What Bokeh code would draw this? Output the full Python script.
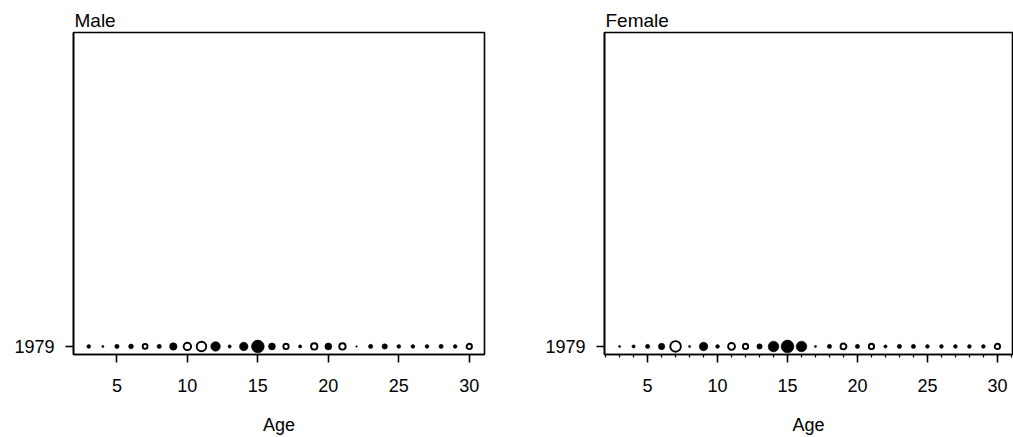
from bokeh.plotting import figure
from bokeh.layouts import row
from bokeh.models import ColumnDataSource, FixedTicker, Range1d
from bokeh.embed import file_html
from bokeh.resources import INLINE

# Residuals by age for the 1979 survey year (positive = filled, negative = open)
ages = list(range(3, 31))
year = 1979
male_resid = [0.7, 0.4, 0.8, 0.9, -0.9, 0.8, 1.4, -1.4, -1.8, 1.8, 0.6, 1.6, 2.4, 1.3,
              -1.0, 0.6, -1.2, 1.3, -1.2, 0.3, 0.8, 1.0, 0.7, 0.7, 0.7, 0.8, 0.7, -1.0]
female_resid = [0.4, 0.6, 0.8, 1.2, -2.0, 0.4, 1.6, 0.7, -1.3, -1.0, 1.0, 2.0, 2.4, 2.0,
                0.4, 0.8, -1.1, 0.8, -1.0, 0.6, 0.8, 0.8, 0.7, 0.7, 0.7, 0.7, 0.7, -1.0]
x_ticks = [5, 10, 15, 20, 25, 30]
y_ticks = [1979]
x_label = "Age"

FONT = "Liberation Sans"
FS = "18px"
PX_PER_UNIT = 5.3  # symbol diameter per unit residual
X_LO, X_HI = 1.92, 31.08


def panel(title, resid, width, left, right, minor):
    p = figure(width=width, height=437, output_backend="svg", toolbar_location=None,
               x_range=Range1d(X_LO, X_HI), y_range=Range1d(1978.5, 1998.5),
               min_border_left=left, min_border_right=right,
               min_border_top=32, min_border_bottom=82)
    p.background_fill_color = "white"
    p.border_fill_color = "white"
    p.grid.visible = False
    p.outline_line_color = "black"
    p.outline_line_width = 1.6

    p.title.text = title
    p.title.align = "left"
    p.title.text_font = FONT
    p.title.text_font_size = "19px"
    p.title.text_font_style = "normal"
    p.title.text_color = "black"
    p.title.standoff = 3
    p.title.offset = 1

    pos = dict(x=[], y=[], s=[])
    neg = dict(x=[], y=[], s=[])
    for a, r in zip(ages, resid):
        d = pos if r > 0 else neg
        d["x"].append(a)
        d["y"].append(year)
        d["s"].append(abs(r) * PX_PER_UNIT)
    p.scatter("x", "y", size="s", source=ColumnDataSource(pos),
              fill_color="black", line_color="black", line_width=0.6)
    p.scatter("x", "y", size="s", source=ColumnDataSource(neg),
              fill_color=None, line_color="black", line_width=1.9)

    xa = p.xaxis[0]
    xa.ticker = FixedTicker(ticks=x_ticks, minor_ticks=list(range(2, 32)) if minor else [])
    xa.axis_label = x_label
    ya = p.yaxis[0]
    ya.ticker = FixedTicker(ticks=y_ticks)
    for ax in (xa, ya):
        ax.axis_line_color = "black"
        ax.axis_line_width = 1.6
        ax.major_tick_line_color = "black"
        ax.major_tick_line_width = 1.6
        ax.major_tick_in = 0
        ax.major_tick_out = 8
        ax.minor_tick_in = 0
        ax.minor_tick_out = 3 if minor else 0
        ax.minor_tick_line_color = "black"
        ax.minor_tick_line_width = 1.2
        ax.major_label_text_font = FONT
        ax.major_label_text_font_size = FS
        ax.major_label_text_color = "black"
        ax.major_label_text_line_height = 1.0
        ax.axis_label_text_font = FONT
        ax.axis_label_text_font_size = FS
        ax.axis_label_text_font_style = "normal"
        ax.axis_label_text_color = "black"
        ax.axis_label_text_line_height = 1.0
    xa.major_label_standoff = 16
    xa.axis_label_standoff = 20
    ya.major_label_standoff = 11
    ya.minor_tick_out = 0
    return p


p_male = panel("Male", male_resid, 540, 73, 56, False)
p_female = panel("Female", female_resid, 473, 64, 1, True)

layout = row(p_male, p_female, spacing=0)
open("out.html", "w").write(file_html(layout, INLINE))
